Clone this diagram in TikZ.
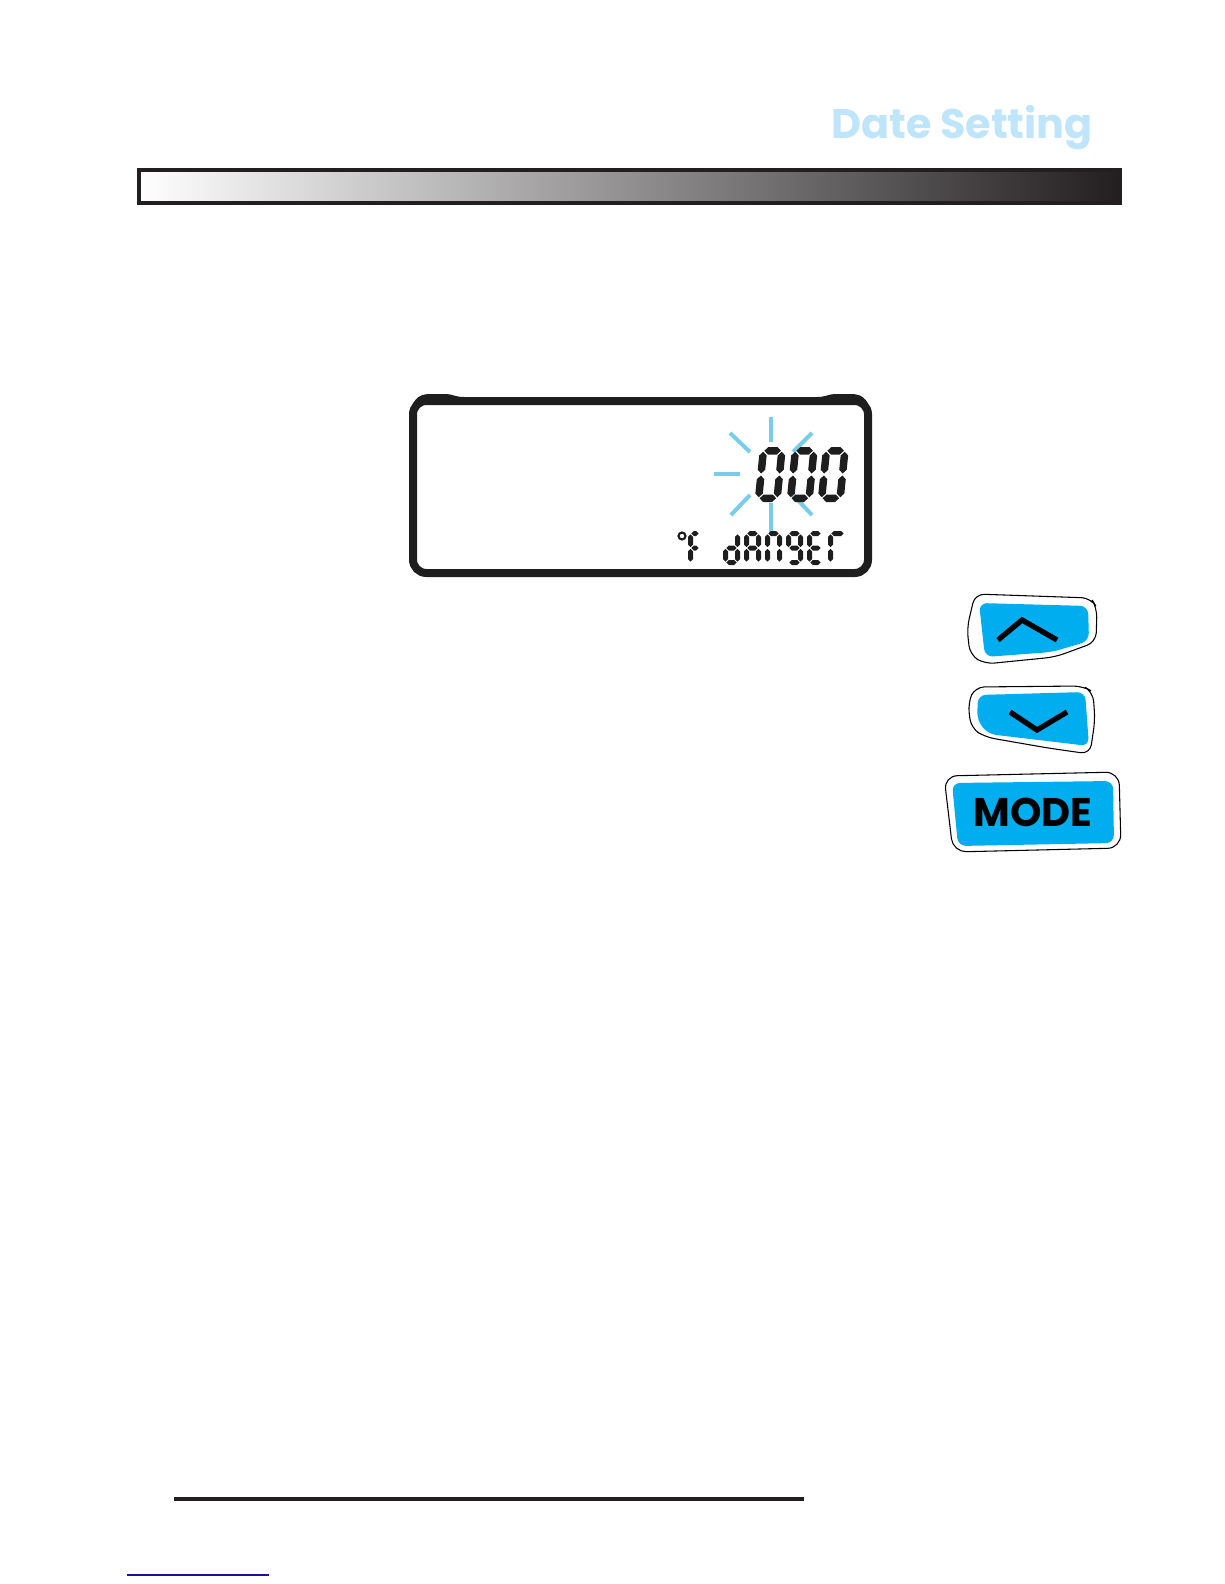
\documentclass[tikz,border=0pt]{standalone}
\usepackage{fontspec}
\newfontfamily\keyfont{Poppins}
\definecolor{barblack}{RGB}{35,31,32}
\definecolor{lcdblack}{RGB}{30,30,30}
\definecolor{raycyan}{RGB}{120,205,235}
\definecolor{btnblue}{RGB}{0,174,239}
\definecolor{titleblue}{RGB}{190,229,249}
\definecolor{linkblue}{RGB}{20,20,150}
\usetikzlibrary{positioning}

% seven segment pieces: \gw,\gh cell size, \gt thickness, \gg gap (px)
\newcommand{\hseg}[3]{\fill[lcdblack] ({#2},{#1}) -- ({#2+\gt/2},{#1-\gt/2}) -- ({#3-\gt/2},{#1-\gt/2})
  -- ({#3},{#1}) -- ({#3-\gt/2},{#1+\gt/2}) -- ({#2+\gt/2},{#1+\gt/2}) -- cycle;}
\newcommand{\vseg}[3]{\fill[lcdblack] ({#1},{#2}) -- ({#1+\gt/2},{#2+\gt/2}) -- ({#1+\gt/2},{#3-\gt/2})
  -- ({#1},{#3}) -- ({#1-\gt/2},{#3-\gt/2}) -- ({#1-\gt/2},{#2+\gt/2}) -- cycle;}
\def\lcdsega{\hseg{\gt/2}{\gt/2+\gg}{\gw-\gt/2-\gg}}
\def\lcdsegb{\vseg{\gw-\gt/2}{\gt/2+\gg}{\gh/2-\gg}}
\def\lcdsegc{\vseg{\gw-\gt/2}{\gh/2+\gg}{\gh-\gt/2-\gg}}
\def\lcdsegd{\hseg{\gh-\gt/2}{\gt/2+\gg}{\gw-\gt/2-\gg}}
\def\lcdsege{\vseg{\gt/2}{\gh/2+\gg}{\gh-\gt/2-\gg}}
\def\lcdsegf{\vseg{\gt/2}{\gt/2+\gg}{\gh/2-\gg}}
\def\lcdsegg{\hseg{\gh/2}{\gt/2+\gg}{\gw-\gt/2-\gg}}
\newcommand{\lcdglyph}[6][]{% x, y, width, height, segments
  \begin{scope}[shift={(#2,#3)},#1]
    \def\gw{#4}\def\gh{#5}
    \foreach \s in {#6}{\csname lcdseg\s\endcsname}
  \end{scope}}

\begin{document}
\begin{tikzpicture}[x=0.75pt,y=-0.75pt,
  bigseg/.style={xslant=0.1},
  ray/.style={raycyan,line width=3pt},
  btnedge/.style={draw=black,line width=0.8pt,fill=white,rounded corners=7pt},
  btnface/.style={fill=btnblue,rounded corners=6pt},
  chevron/.style={line width=4pt,black,line join=miter}
]
\useasboundingbox (0,0) rectangle (1224,1584);

% heading
\node[font=\keyfont\bfseries\fontsize{31}{36}\selectfont,text=titleblue] (title) at (962,128) {Date Setting};
\shade[left color=white,right color=barblack] (139,170) rectangle (1120,203);
\draw[barblack,line width=3pt] (139,170) rectangle (1120,203);

% display frame
\draw[lcdblack,line width=6pt,rounded corners=10pt] (413,401) rectangle (868,573);
\fill[lcdblack] (410,422) .. controls (410,400) and (418,394) .. (430,394) -- (446,394)
  .. controls (452,394) and (455,397) .. (464,397) -- (464,402) -- (420,402) -- cycle;
\fill[lcdblack] (871,422) .. controls (871,400) and (863,394) .. (851,394) -- (835,394)
  .. controls (829,394) and (826,397) .. (817,397) -- (817,402) -- (861,402) -- cycle;

% blinking rays
\draw[ray] (771,417) -- (771,442);
\draw[ray] (771,503) -- (771,532);
\draw[ray] (714,474) -- (740,474);
\draw[ray] (730,433) -- (750,452);
\draw[ray] (812,433) -- (793,452);
\draw[ray] (750,495) -- (731,515);
\draw[ray] (793,495) -- (812,515);

% digits 000
\def\gt{7.5}\def\gg{1}
\lcdglyph[bigseg]{760}{447}{26}{55}{a,b,c,d,e,f}
\lcdglyph[bigseg]{792}{447}{26}{55}{a,b,c,d,e,f}
\lcdglyph[bigseg]{823}{447}{26}{55}{a,b,c,d,e,f}

% degree F and DANGER
\def\gt{5}\def\gg{0.8}
\draw[lcdblack,line width=1.6pt] (682,536) circle (3.5);
\lcdglyph{688}{531}{14}{34}{a,e,f,g}
\lcdglyph{723}{531}{17}{34}{b,c,d,e,g}
\lcdglyph{744}{531}{17}{34}{a,b,c,e,f,g}
\lcdglyph{765}{531}{17}{34}{a,b,c,e,f}
\lcdglyph{786}{531}{17}{34}{a,b,c,d,f,g}
\lcdglyph{807}{531}{17}{34}{a,d,e,f,g}
\lcdglyph{828}{531}{19}{34}{a,e,f}

% up key
\path[btnedge] (975,594) -- (1091,598) -- (1097,608) -- (1096,642) -- (1055,657)
  -- (985,664) -- (970,655) -- (967,628) -- cycle;
\fill[btnface] (979,603) -- (1088,606) -- (1089,641) -- (1052,652) -- (985,657) -- cycle;
\draw[chevron] (998,640) -- (1022,620) -- (1057,640);

% down key
\path[btnedge] (975,687) -- (1083,686) -- (1093,692) -- (1095,720) -- (1090,754)
  -- (1048,748) -- (985,737) -- (971,728) -- (968,703) -- cycle;
\fill[btnface] (978,695) -- (1085,692) -- (1089,746) -- (988,734) -- (977,720) -- cycle;
\draw[chevron] (1010,712) -- (1037,730) -- (1067,712);

% mode key
\path[btnedge,rounded corners=10pt] (944,776) -- (1119,772) -- (1121,848) -- (953,852) -- cycle;
\fill[btnface] (952,783) -- (1113,781) -- (1114,843) -- (958,846) -- cycle;
\node[font=\keyfont\bfseries\fontsize{30}{33}\selectfont] (mode) at (1033,812) {MODE};

% footer rules
\draw[barblack,line width=3pt] (174,1499) -- (804,1499);
\draw[linkblue,line width=0.8pt] (127,1575) -- (269,1575);
\end{tikzpicture}
\end{document}
